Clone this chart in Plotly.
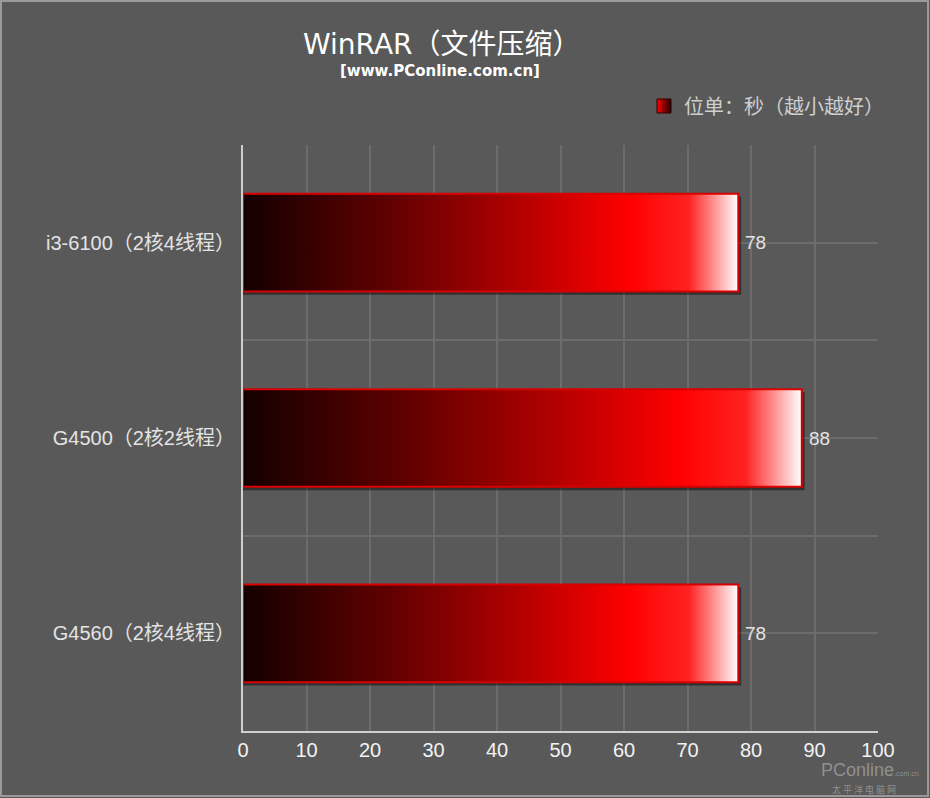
import plotly.graph_objects as go

# ---- data ----
categories = ["i3-6100（2核4线程）", "G4500（2核2线程）", "G4560（2核4线程）"]
values = [78, 88, 78]
x_ticks = [0, 10, 20, 30, 40, 50, 60, 70, 80, 90, 100]
title_text = "WinRAR（文件压缩）"
subtitle_text = "[www.PConline.com.cn]"
legend_name = "位单：秒（越小越好）"

W, H = 930, 798
ML, MR, MT, MB = 243, 52, 145, 67
PW, PH = W - ML - MR, H - MT - MB


def px_x(p):
    return (p - ML) / PW


def px_y(p):
    return (H - MB - p) / PH


BG = "#595959"
GRID = "#6c6c6c"
AXIS = "#cfcfcf"
LABEL = "#e4e4e4"
half = 0.25

grad = [
    [0.0, "#140000"],
    [0.30, "#620000"],
    [0.55, "#b00000"],
    [0.78, "#ff0000"],
    [0.90, "#ff2222"],
    [0.95, "#ff9090"],
    [1.0, "#ffffff"],
]

fig = go.Figure()

idx = list(range(len(categories)))

# shadows
for i, v in zip(idx, values):
    fig.add_trace(go.Scatter(
        x=[0, v + 0.45, v + 0.45, 0, 0],
        y=[i - half + 0.015, i - half + 0.015, i + half + 0.017, i + half + 0.017, i - half + 0.015],
        mode="lines", fill="toself", fillcolor="rgba(0,0,0,0.45)",
        line=dict(width=0), hoverinfo="skip", showlegend=False))

# bars with gradient
for i, v in zip(idx, values):
    fig.add_trace(go.Scatter(
        x=[0, v, v, 0, 0],
        y=[i - half, i - half, i + half, i + half, i - half],
        mode="lines", fill="toself",
        fillgradient=dict(type="horizontal", colorscale=grad),
        line=dict(color="#d80000", width=2),
        hoverinfo="skip", showlegend=False))

# legend entry
fig.add_trace(go.Scatter(
    x=[None], y=[None], mode="markers", name=legend_name,
    marker=dict(symbol="square", size=14, color="#ff0000",
                gradient=dict(type="horizontal", color="#200000"),
                line=dict(color="#300000", width=1)),
    showlegend=True))

ytickvals = [-0.5, 0, 0.5, 1, 1.5, 2, 2.5]
yticktext = ["", categories[0], "", categories[1], "", categories[2], ""]

annotations = [
    dict(text=str(v), x=v, y=i, xref="x", yref="y", showarrow=False,
         xanchor="left", yanchor="middle", xshift=5,
         font=dict(family="Arial, Liberation Sans", size=19, color=LABEL))
    for i, v in zip(idx, values)
]
annotations += [
    dict(text=title_text, x=px_x(442), y=px_y(45), xref="paper", yref="paper",
         showarrow=False, xanchor="center", yanchor="middle",
         font=dict(size=28, color="#ffffff", family="DejaVu Sans, Noto Sans CJK SC")),
    dict(text="<b>" + subtitle_text + "</b>", x=px_x(440), y=px_y(71),
         xref="paper", yref="paper", showarrow=False,
         xanchor="center", yanchor="middle",
         font=dict(size=15, color="#ffffff", family="DejaVu Sans")),
    dict(text="PConline<span style='font-size:7px'>.com.cn</span>",
         x=px_x(870), y=px_y(770), xref="paper", yref="paper",
         showarrow=False, xanchor="center", yanchor="middle",
         font=dict(size=18, color="rgba(215,215,215,0.45)", family="Arial")),
    dict(text="太 平 洋 电 脑 网", x=px_x(864), y=px_y(789),
         xref="paper", yref="paper", showarrow=False,
         xanchor="center", yanchor="middle",
         font=dict(size=9, color="rgba(215,215,215,0.45)",
                   family="Noto Sans CJK SC")),
]

fig.update_layout(
    width=W, height=H,
    margin=dict(l=ML, r=MR, t=MT, b=MB),
    paper_bgcolor=BG, plot_bgcolor=BG,
    font=dict(family="Arial, Liberation Sans, Noto Sans CJK SC", color=LABEL),
    showlegend=True,
    legend=dict(x=px_x(644), y=px_y(106), xanchor="left", yanchor="middle",
                bgcolor="rgba(0,0,0,0)",
                font=dict(size=20, color="#cfcfcf",
                          family="Noto Sans CJK SC, Arial")),
    xaxis=dict(range=[0, 100], tickvals=x_ticks, showgrid=True,
               gridcolor=GRID, gridwidth=2, showline=True, linecolor=AXIS,
               linewidth=2, zeroline=False, ticks="",
               tickfont=dict(size=20, color="#f2f2f2", family="Arial, Liberation Sans"),
               fixedrange=True),
    yaxis=dict(range=[2.5, -0.5], tickvals=ytickvals, ticktext=yticktext,
               showgrid=True, gridcolor=GRID, gridwidth=2, showline=True,
               linecolor=AXIS, linewidth=2, zeroline=False, ticks="",
               ticklabelstandoff=2,
               tickfont=dict(size=20, color=LABEL,
                             family="Arial, Liberation Sans, Noto Sans CJK SC"),
               fixedrange=True),
    annotations=annotations,
    shapes=[
        dict(type="rect", xref="paper", yref="paper",
             x0=px_x(1), x1=px_x(928), y0=px_y(796), y1=px_y(1),
             line=dict(color="#9a9a9a", width=2), fillcolor="rgba(0,0,0,0)",
             layer="below"),
    ],
)

fig.write_html("out.html", config={"displayModeBar": False},
               post_script="document.body.style.margin='0';document.body.style.overflow='hidden';")
